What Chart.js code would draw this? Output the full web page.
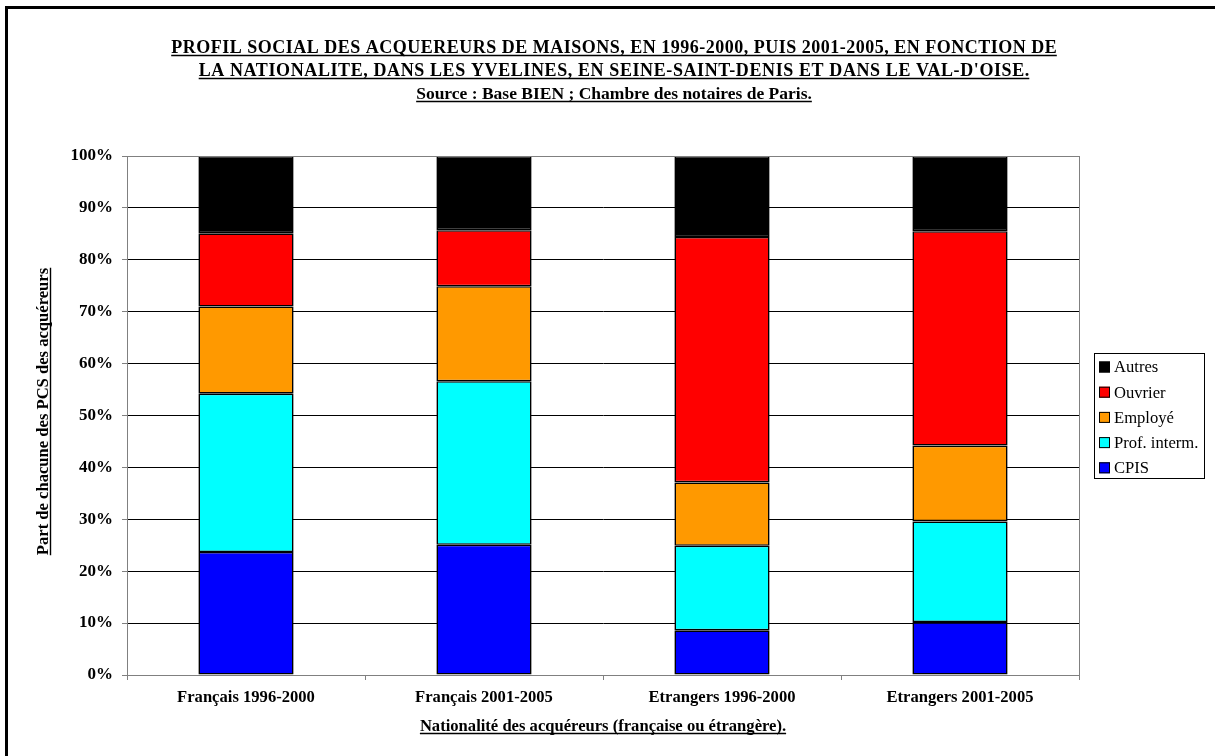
<!DOCTYPE html>
<html>
<head>
<meta charset="utf-8">
<script src="https://cdn.jsdelivr.net/npm/chart.js@4/dist/chart.umd.min.js"></script>
<style>
  html, body { margin: 0; padding: 0; background: #fff; }
  canvas { display: block; }
</style>
</head>
<body>
<canvas id="pcsChart" width="1215" height="756"></canvas>
<script>
// chart data (percent of buyers)
const categories = [
  "Français 1996-2000",
  "Français 2001-2005",
  "Etrangers 1996-2000",
  "Etrangers 2001-2005",
];
const cpis = [23.7, 25.1, 8.6, 10.2];
const profInterm = [30.5, 31.5, 16.3, 19.4];
const employe = [16.8, 18.3, 12.2, 14.6];
const ouvrier = [14.1, 10.8, 47.3, 41.3];
const autres = [14.9, 14.3, 15.6, 14.5];
const yTicks = [0, 10, 20, 30, 40, 50, 60, 70, 80, 90, 100];

const titleLines = [
  "PROFIL SOCIAL DES ACQUEREURS DE MAISONS, EN 1996-2000, PUIS 2001-2005, EN FONCTION DE",
  "LA NATIONALITE, DANS LES YVELINES, EN SEINE-SAINT-DENIS ET DANS LE VAL-D'OISE.",
  "Source : Base BIEN ; Chambre des notaires de Paris.",
];
const titleSizes = [18, 18, 17.5];
const titleSpacing = [0.5, 0.6, 0];
const xTitle = "Nationalité des acquéreurs (française ou étrangère).";
const yTitle = "Part de chacune des PCS des acquéreurs";

const SERIF = "'Liberation Serif', 'Times New Roman', serif";
Chart.defaults.font.family = SERIF;
Chart.defaults.color = "#000";

// write a centered line of text with an underline below it
function underlinedText(ctx, text, x, y, spacing) {
  const sp = spacing || 0;
  ctx.letterSpacing = sp + "px";
  const w = ctx.measureText(text).width - sp;
  ctx.fillText(text, x + sp / 2, y);
  ctx.letterSpacing = "0px";
  ctx.beginPath();
  ctx.lineWidth = 1.4;
  ctx.strokeStyle = "#000";
  ctx.moveTo(x - w / 2, y + 2.5);
  ctx.lineTo(x + w / 2, y + 2.5);
  ctx.stroke();
}

const decorPlugin = {
  id: "decor",
  beforeDraw(chart) {
    const { ctx, width, height } = chart;
    ctx.save();
    ctx.fillStyle = "#fff";
    ctx.fillRect(0, 0, width, height);
    ctx.restore();
  },
  afterDraw(chart) {
    const { ctx, chartArea } = chart;
    ctx.save();

    // outer frame (only top and left are inside the picture)
    ctx.strokeStyle = "#000";
    ctx.lineWidth = 3;
    ctx.strokeRect(6.5, 7.5, 1300, 900);

    // plot area border
    ctx.strokeStyle = "#808080";
    ctx.lineWidth = 1;
    ctx.strokeRect(chartArea.left + 0.5, chartArea.top + 0.5,
      chartArea.right - chartArea.left, chartArea.bottom - chartArea.top);

    // titles
    ctx.fillStyle = "#000";
    ctx.textAlign = "center";
    ctx.textBaseline = "alphabetic";
    titleLines.forEach((line, i) => {
      ctx.font = "bold " + titleSizes[i] + "px " + SERIF;
      underlinedText(ctx, line, 614, 53 + i * 23, titleSpacing[i]);
    });

    ctx.font = "bold 16.6px " + SERIF;
    const cx = (chartArea.left + chartArea.right) / 2;
    underlinedText(ctx, xTitle, cx, 731);

    ctx.save();
    ctx.translate(48, (chartArea.top + chartArea.bottom) / 2 - 4);
    ctx.rotate(-Math.PI / 2);
    underlinedText(ctx, yTitle, 0, 0);
    ctx.restore();

    // legend box, top entry is the last dataset
    const lx = 1094, ly = 353, lw = 110, lh = 125;
    ctx.fillStyle = "#fff";
    ctx.fillRect(lx, ly, lw, lh);
    ctx.strokeStyle = "#000";
    ctx.lineWidth = 1;
    ctx.strokeRect(lx + 0.5, ly + 0.5, lw, lh);
    ctx.font = "16.6px " + SERIF;
    ctx.textAlign = "left";
    ctx.textBaseline = "middle";
    const ds = chart.data.datasets.slice().reverse();
    ds.forEach((d, i) => {
      const y = ly + 14 + i * 25.2;
      ctx.fillStyle = d.backgroundColor;
      ctx.fillRect(lx + 5, y - 5.5, 11, 11);
      ctx.strokeStyle = "#000";
      ctx.strokeRect(lx + 5.5, y - 5, 10, 10);
      ctx.fillStyle = "#000";
      ctx.fillText(d.label, lx + 20, y + 1);
    });
    ctx.restore();
  },
};

const barStyle = {
  borderColor: "#000",
  borderWidth: 1.6,
  borderSkipped: false,
  categoryPercentage: 1,
  barPercentage: 0.4,
};

new Chart(document.getElementById("pcsChart"), {
  type: "bar",
  data: {
    labels: categories,
    datasets: [
      { label: "CPIS", data: cpis, backgroundColor: "#0000FF", ...barStyle },
      { label: "Prof. interm.", data: profInterm, backgroundColor: "#00FFFF", ...barStyle },
      { label: "Employé", data: employe, backgroundColor: "#FF9900", ...barStyle },
      { label: "Ouvrier", data: ouvrier, backgroundColor: "#FF0000", ...barStyle },
      { label: "Autres", data: autres, backgroundColor: "#000000", ...barStyle },
    ],
  },
  options: {
    responsive: false,
    animation: false,
    layout: { padding: { left: 0, top: 156, right: 136, bottom: 0 } },
    plugins: {
      legend: { display: false },
      tooltip: { enabled: false },
      title: { display: false },
    },
    scales: {
      x: {
        stacked: true,
        afterFit: (scale) => { scale.height = 81; },
        grid: {
          offset: true,
          drawOnChartArea: false,
          drawTicks: true,
          tickLength: 5,
          color: "#808080",
        },
        border: { color: "#808080" },
        ticks: {
          padding: 8,
          font: { size: 16.6, weight: "bold" },
          color: "#000",
        },
      },
      y: {
        stacked: true,
        min: 0,
        max: 100,
        afterFit: (scale) => { scale.width = 127; },
        afterBuildTicks: (scale) => {
          scale.ticks = yTicks.map((v) => ({ value: v }));
        },
        grid: {
          color: "#000",
          tickLength: 5,
          tickColor: "#808080",
        },
        border: { color: "#808080" },
        ticks: {
          padding: 9,
          font: { size: 17, weight: "bold" },
          color: "#000",
          callback: (v) => v + "%",
        },
      },
    },
  },
  plugins: [decorPlugin],
});
</script>
</body>
</html>
